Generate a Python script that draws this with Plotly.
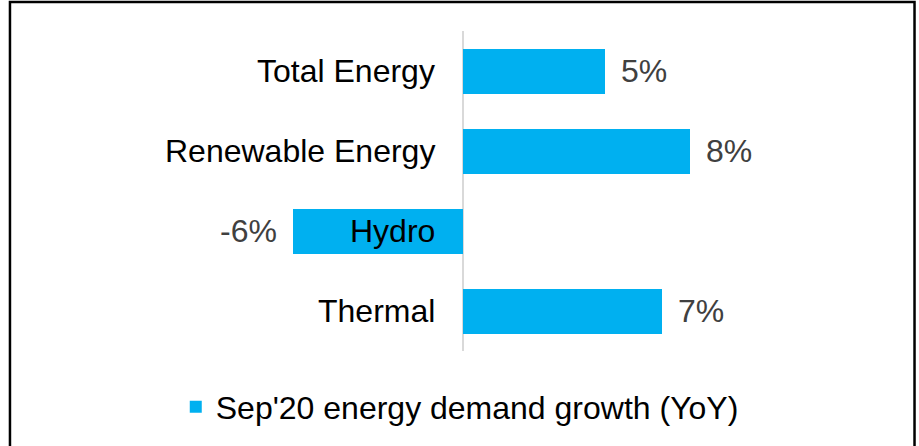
import plotly.graph_objects as go

categories = ["Total Energy", "Renewable Energy", "Hydro", "Thermal"]
growth = [5, 8, -6, 7]
value_labels = ["5%", "8%", "-6%", "7%"]
series_name = "Sep'20 energy demand growth (YoY)"

FONT = "Liberation Sans, Arial, sans-serif"

fig = go.Figure()
fig.add_trace(go.Bar(
    y=categories, x=growth, orientation='h', name=series_name,
    marker=dict(color='#00B0F0', line=dict(width=0)),
    width=0.5625, hoverinfo='skip', showlegend=True))

# category names sit just left of the zero line, like the Excel original
for cat in categories:
    fig.add_annotation(x=0, y=cat, xref='x', yref='y', text=cat,
                       showarrow=False, xanchor='right', xshift=-26,
                       font=dict(family=FONT, size=32, color='black'))

for cat, val, lab in zip(categories, growth, value_labels):
    fig.add_annotation(x=val, y=cat, xref='x', yref='y', text=lab,
                       showarrow=False,
                       xanchor='left' if val >= 0 else 'right',
                       xshift=14 if val >= 0 else -14,
                       font=dict(family=FONT, size=32, color='#404040'))

# outer frame
fig.add_shape(type='rect', xref='paper', yref='paper',
              x0=-0.0114, x1=1.0165, y0=-0.32, y1=1.0906,
              line=dict(color='black', width=2.5), fillcolor='rgba(0,0,0,0)')

fig.update_layout(
    width=919, height=446,
    margin=dict(l=20, r=19, t=31, b=95),
    paper_bgcolor='white', plot_bgcolor='white',
    font=dict(family=FONT, size=32, color='black'),
    bargap=0,
    showlegend=True,
    legend=dict(orientation='h', x=0.177, xanchor='left', y=-0.175, yanchor='middle',
                font=dict(family=FONT, size=32, color='black'),
                bgcolor='rgba(0,0,0,0)', itemclick=False),
    xaxis=dict(range=[-15.63, 15.41], showgrid=False, showticklabels=False,
               zeroline=True, zerolinecolor='#d9d9d9', zerolinewidth=2,
               showline=False, fixedrange=True),
    yaxis=dict(categoryorder='array', categoryarray=categories[::-1],
               showticklabels=False, showgrid=False, zeroline=False,
               range=[-0.5, 3.5], fixedrange=True),
)

# drop the browser's default body margin so the figure fills the window
fig.write_html("out.html", config=dict(displayModeBar=False),
               post_script="document.body.style.margin='0';")
